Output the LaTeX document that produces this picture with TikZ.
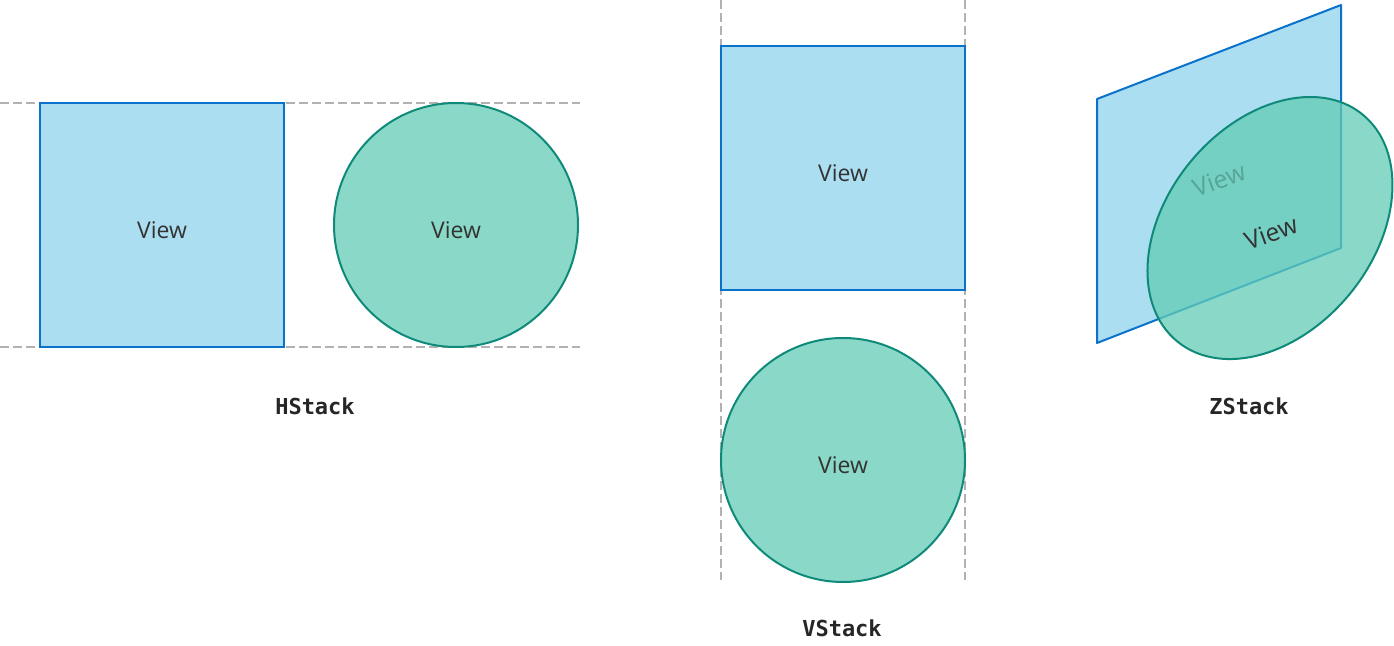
\documentclass[tikz,border=0pt]{standalone}
\usepackage{fontspec}
\setmainfont{Open Sans}
\setmonofont{DejaVu Sans Mono}
\usetikzlibrary{
	positioning
}
\definecolor{viewblue}{HTML}{ABDEF0}
\definecolor{viewblueline}{HTML}{0B72CC}
\definecolor{viewgreen}{HTML}{63CCB6}
\definecolor{viewgreenline}{HTML}{0F8A7A}
\definecolor{guidegray}{HTML}{B2B2B2}
\definecolor{textdark}{HTML}{333333}
\tikzset{
	view text/.style={
		font=\fontsize{11.5}{13}\selectfont
		,text=textdark
		,text opacity=1
		,inner sep=0pt
	},
	low text/.style={
		view text
		,text height=14pt
		,text depth=0pt
	},
	box/.style={
		low text
		,rectangle
		,draw=viewblueline
		,fill=viewblue
		,line width=1pt
		,minimum size=122pt
	},
	disc/.style={
		low text
		,circle
		,draw=viewgreenline
		,fill=viewgreen
		,fill opacity=.75
		,draw opacity=1
		,line width=1pt
		,minimum size=122pt
	},
	guide/.style={
		draw=guidegray
		,dash pattern=on 4.5pt off 2pt
		,line width=.7pt
	},
	stack label/.style={
		font=\ttfamily\bfseries\fontsize{11}{13}\selectfont
		,text=black!85
	}
}
\tikzset{
	plane/.style={
		draw=viewblueline
		,fill=viewblue
		,line width=1pt
		,line join=round
	},
	tilted disc/.style={
		draw=viewgreenline
		,fill=viewgreen
		,fill opacity=.75
		,line width=1pt
	},
	tilted text/.style={
		view text
		,font=\fontsize{12.5}{14}\selectfont
		,rotate=20
	}
}

\begin{document}
\begin{tikzpicture}[x=.5pt, y=-.5pt]
\useasboundingbox (0,0) rectangle (1394,646);

% guides
\foreach \y in {103, 347}{
	\draw[guide] (0,\y) -- (580,\y);
}
\foreach \x in {721, 965}{
	\draw[guide] (\x,0) -- (\x,580);
}

% HStack
\node[box](hview) at (162,225){View};
\node[disc](hcircle) at (456,225){View};
\node[stack label](hlabel) at (315,406){HStack};

% VStack
\node[box](vview) at (843,168){View};
\node[disc](vcircle) at (843,460){View};
\node[stack label](vlabel) at (842,628){VStack};

% ZStack
\coordinate(z1) at (1097,99);
\coordinate(z2) at (1341,5);
\coordinate(z3) at (1341,248);
\coordinate(z4) at (1097,343);
\draw[plane] (z1) -- (z2) -- (z3) -- (z4) -- cycle;
\node[tilted text](zback) at (1219,180){View};
\coordinate(zc) at (1270,228);
\draw[tilted disc, rotate around={50.8:(zc)}] (zc) ellipse [x radius=146.5, y radius=103.5];
\node[tilted text](zfront) at (1271,233){View};
\node[stack label](zlabel) at (1249,406){ZStack};
\end{tikzpicture}
\end{document}
